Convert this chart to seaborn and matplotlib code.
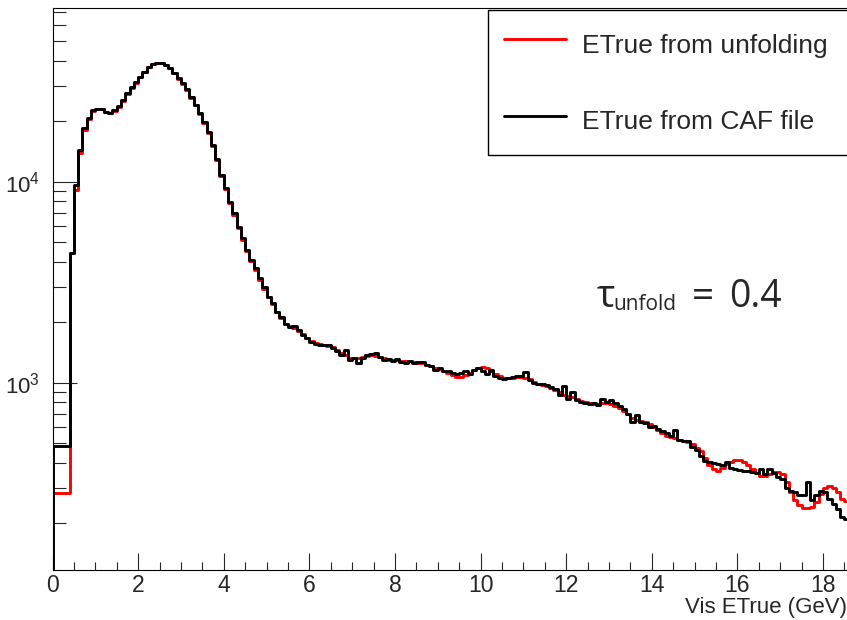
import numpy as np
import pandas as pd
import matplotlib
matplotlib.use("Agg")
import matplotlib.pyplot as plt
import seaborn as sns
from matplotlib.lines import Line2D
from matplotlib.ticker import FixedLocator, LogLocator, MultipleLocator, NullFormatter, FuncFormatter

# ---------------- data ----------------
first_bin = [0.0, 0.4]          # first (wide) bin
bin_width = 0.1                 # width of the remaining bins, starting at 0.4 GeV
caf_first = 484                 # ETrue from CAF file, bin [0, 0.4]
unf_first = 284                 # ETrue from unfolding, bin [0, 0.4]

caf_values = [
    4440, 9630, 14400, 18450, 20650, 22700, 23000, 23000, 22300, 21900,
    22700, 23800, 25500, 27500, 29500, 31200, 33300, 35300, 37200, 38400,
    38800, 38800, 38100, 36700, 34900, 32700, 30900, 28900, 26500, 24200,
    22000, 19800, 17600, 15300, 13000, 10800, 9270, 7950, 6960, 5970,
    5230, 4570, 4080, 3710, 3300, 2980, 2680, 2480, 2260, 2130,
    1970, 1900, 1910, 1820, 1730, 1660, 1600, 1560, 1540, 1540,
    1540, 1490, 1430, 1380, 1450, 1290, 1330, 1260, 1320, 1370,
    1390, 1410, 1340, 1290, 1310, 1280, 1310, 1270, 1260, 1280,
    1250, 1270, 1270, 1220, 1210, 1160, 1180, 1150, 1140, 1120,
    1110, 1120, 1140, 1100, 1160, 1180, 1140, 1110, 1160, 1080,
    1060, 1040, 1050, 1070, 1080, 1080, 1130, 1030, 1000, 990,
    985, 975, 950, 930, 870, 960, 830, 900, 820, 800,
    790, 780, 790, 775, 830, 800, 820, 790, 765, 740,
    700, 640, 690, 640, 630, 600, 610, 590, 575, 560,
    540, 580, 520, 515, 510, 480, 460, 430, 410, 405,
    400, 395, 390, 405, 375, 370, 368, 365, 365, 360,
    355, 370, 350, 370, 355, 340, 330, 300, 290, 285,
    275, 275, 320, 260, 275, 290, 285, 265, 250, 235,
    215, 210,
]

unf_values = [
    4440, 9100, 13900, 18000, 20400, 22500, 23000, 23000, 22300, 21900,
    22500, 23600, 25200, 27200, 29200, 31000, 33000, 35000, 37000, 38300,
    38800, 38800, 38100, 36700, 34800, 32500, 30600, 28600, 26200, 24000,
    21800, 19600, 17400, 15100, 12800, 10700, 9150, 7850, 6850, 5880,
    5150, 4500, 4020, 3650, 3260, 2940, 2660, 2450, 2240, 2110,
    1970, 1910, 1870, 1810, 1740, 1670, 1610, 1570, 1550, 1540,
    1530, 1500, 1450, 1400, 1370, 1330, 1320, 1320, 1340, 1360,
    1370, 1360, 1340, 1320, 1300, 1290, 1290, 1280, 1280, 1280,
    1270, 1260, 1250, 1230, 1210, 1190, 1170, 1150, 1120, 1090,
    1070, 1070, 1090, 1120, 1160, 1190, 1200, 1180, 1150, 1110,
    1080, 1060, 1050, 1060, 1070, 1070, 1060, 1040, 1010, 990,
    975, 960, 945, 920, 895, 870, 855, 845, 830, 815,
    800, 790, 785, 785, 790, 790, 780, 765, 745, 720,
    695, 670, 655, 645, 635, 620, 600, 580, 560, 545,
    535, 530, 520, 515, 505, 495, 475, 455, 420, 390,
    370, 365, 375, 395, 405, 413, 413, 405, 390, 370,
    355, 345, 345, 350, 358, 358, 350, 320, 285, 260,
    245, 238, 238, 242, 255, 280, 300, 308, 300, 285,
    265, 258,
]

labels = ["ETrue from unfolding", "ETrue from CAF file"]
colors = ["#ff0000", "#000000"]
x_label = "Vis ETrue (GeV)"
y_major = [1e3, 1e4]
tau_symbol, tau_sub, tau_eq, tau_val = "τ", "unfold", "=", "0.4"

# ---------------- build bins (step outline: each value held until next edge) ----------------
n = len(caf_values)
edges = np.concatenate([[first_bin[0]], first_bin[1] + bin_width * np.arange(n + 1)])
edges = np.round(edges, 3)
unf_all = [unf_first] + unf_values
caf_all = [caf_first] + caf_values
df = pd.DataFrame({
    "energy": np.concatenate([edges, edges]),
    "count": np.concatenate([unf_all + [unf_all[-1]], caf_all + [caf_all[-1]]]),
    "source": [labels[0]] * len(edges) + [labels[1]] * len(edges),
})

# ---------------- figure ----------------
sns.set_style("white")
plt.rcParams["font.family"] = ["Liberation Sans", "DejaVu Sans"]

W, H = 847, 620
fig = plt.figure(figsize=(W / 100, H / 100), dpi=100)
ax_left, ax_right, ax_top, ax_bottom = 52.5, 847, 8.3, 570
ax = fig.add_axes([ax_left / W, 1 - ax_bottom / H, (ax_right - ax_left) / W, (ax_bottom - ax_top) / H])
ax.set_yscale("log")

for lab, col in zip(labels, colors):
    sub = df[df["source"] == lab]
    sns.lineplot(data=sub, x="energy", y="count", drawstyle="steps-post", estimator=None,
                 sort=False, color=col, linewidth=2.1, ax=ax, legend=False)

ymin, ymax = 117, 72900
ax.set_xlim(0, 18.56)
ax.set_ylim(ymin, ymax)
# left edge of the histogram drawn from the frame bottom (ROOT style)
ax.vlines(edges[0], ymin, caf_first, color=colors[1], linewidth=2.1)

# ticks
ax.yaxis.set_major_locator(FixedLocator(y_major))
ax.yaxis.set_major_formatter(FuncFormatter(lambda v, p: r"$\mathregular{10^{%d}}$" % round(np.log10(v))))
ax.yaxis.set_minor_locator(LogLocator(base=10, subs=np.arange(2, 10)))
ax.yaxis.set_minor_formatter(NullFormatter())
ax.xaxis.set_major_locator(MultipleLocator(2))
ax.xaxis.set_minor_locator(MultipleLocator(0.5))
ax.tick_params(axis="y", which="major", direction="in", length=17.3, width=0.8, labelsize=16, pad=9, left=True, right=False)
ax.tick_params(axis="y", which="minor", direction="in", length=9, width=0.8, left=True, right=False)
ax.tick_params(axis="x", which="major", direction="in", length=12, width=0.8, labelsize=16.5, pad=3, bottom=True, top=False)
ax.tick_params(axis="x", which="minor", direction="in", length=6, width=0.8, bottom=True, top=False)

for s in ["left", "bottom", "top"]:
    ax.spines[s].set_linewidth(0.8)
    ax.spines[s].set_color("black")
ax.spines["right"].set_visible(False)

ax.set_ylabel("")
ax.set_xlabel(x_label, fontsize=16, loc="right")
ax.xaxis.set_label_coords(1.0, -(597 - ax_bottom) / (ax_bottom - ax_top))

# legend
handles = [Line2D([], [], color=c, linewidth=2.1) for c in colors]
axw = ax_right - ax_left
axh = ax_bottom - ax_top
leg = ax.legend(handles, labels, loc="upper left",
                bbox_to_anchor=((488 - ax_left) / axw, 0.0, (862 - 488) / axw, (ax_bottom - 10) / axh),
                mode="expand", borderaxespad=0, borderpad=0.6, handleheight=1.8,
                labelspacing=1.48, handlelength=2.35, handletextpad=0.63, fontsize=19,
                frameon=True, fancybox=False, framealpha=1, edgecolor="black")
leg.get_frame().set_linewidth(1.0)

# annotation  (tau_unfold = 0.4), placed in figure pixels
tfam = ["Open Sans", "DejaVu Sans"]
def px(x, y):
    return x / W, 1 - y / H
fig.text(*px(597, 307), tau_symbol, fontsize=28, family=tfam, ha="left", va="baseline")
fig.text(*px(613, 310), tau_sub, fontsize=15, family=tfam, ha="left", va="baseline")
fig.text(*px(692, 307), tau_eq, fontsize=28, family=tfam, ha="left", va="baseline")
fig.text(*px(729, 307), tau_val, fontsize=27, family=tfam, ha="left", va="baseline")

fig.savefig("out.png", dpi=100)
